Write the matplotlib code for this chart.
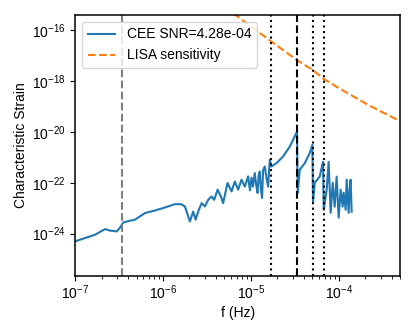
import numpy as np
import matplotlib
matplotlib.use('Agg')
import matplotlib.pyplot as plt
from matplotlib.ticker import FixedLocator, NullLocator

plt.rcParams['font.family'] = ['Liberation Sans', 'DejaVu Sans']
plt.rcParams['font.size'] = 10

# CEE characteristic strain spectrum (log10 values)
log_f_cee = [-7.000, -6.886, -6.773, -6.659, -6.602, -6.526, -6.489, -6.451, -6.375, -6.318,
             -6.205, -6.091, -5.977, -5.864, -5.795, -5.750, -5.731, -5.693, -5.656, -5.628,
             -5.599, -5.560, -5.523, -5.485, -5.447, -5.417, -5.378, -5.341, -5.315, -5.265,
             -5.219, -5.182, -5.144, -5.106, -5.068, -5.031, -5.010, -4.992, -4.975, -4.955,
             -4.940, -4.924, -4.910, -4.898, -4.885, -4.872, -4.860, -4.841, -4.822, -4.803,
             -4.784, -4.765, -4.708, -4.633, -4.557, -4.500, -4.474,
             -4.466, -4.443, -4.386, -4.330, -4.299, -4.292, -4.273, -4.216, -4.178, -4.170,
             -4.136, -4.114, -4.091, -4.068, -4.045, -4.023, -4.000, -3.977, -3.955, -3.943,
             -3.920, -3.909, -3.886, -3.875, -3.864, -3.852]
log_h_cee = [-24.30, -24.17, -24.04, -23.82, -23.88, -23.91, -23.76, -23.56, -23.49, -23.45,
             -23.19, -23.09, -22.97, -22.84, -22.84, -22.93, -23.13, -23.52, -23.13, -23.45,
             -23.13, -22.80, -22.93, -22.67, -22.54, -22.67, -22.27, -22.54, -22.80, -22.01,
             -22.34, -21.95, -22.27, -21.88, -22.15, -21.75, -22.30, -21.80, -22.15, -21.62,
             -22.05, -22.40, -21.70, -21.56, -22.25, -22.60, -21.50, -21.36, -21.80, -22.15,
             -21.10, -21.36, -21.23, -20.97, -20.58, -20.18, -19.99,
             -22.40, -21.49, -21.23, -20.84, -20.51, -22.78, -22.00, -21.76, -21.18, -23.06,
             -22.27, -21.18, -23.18, -22.00, -22.94, -21.76, -23.37, -22.27, -22.94, -22.39,
             -23.06, -21.88, -23.18, -22.27, -21.88, -23.14]

# LISA sensitivity curve (log10)
log_f_lisa = [-5.2, -4.977, -4.477, -4.295, -4.170, -4.0, -3.65, -3.307]
log_h_lisa = [-15.34, -15.92, -17.18, -17.57, -17.92, -18.28, -18.97, -19.57]

snr = 4.28e-4
f_orb = 3.38e-5  # orbital frequency marker

f_cee = 10 ** np.array(log_f_cee)
h_cee = 10 ** np.array(log_h_cee)
f_lisa = 10 ** np.array(log_f_lisa)
h_lisa = 10 ** np.array(log_h_lisa)

fig = plt.figure(figsize=(4.15, 3.32), dpi=100)
ax = fig.add_axes([0.181, 0.169, 0.783, 0.786])

ax.loglog(f_cee, h_cee, color='tab:blue', lw=1.5, label='CEE SNR=%.2e' % snr)
ax.loglog(f_lisa, h_lisa, '--', color='tab:orange', lw=1.5, label='LISA sensitivity')

ax.axvline(f_orb / 100, color='gray', ls='--')
ax.axvline(f_orb, color='k', ls='--')
for m in [0.5, 1.5, 2.0]:
    ax.axvline(m * f_orb, color='k', ls=':')

ax.set_xlim(1e-7, 5e-4)
ax.set_ylim(2.2e-26, 3.9e-16)
ax.xaxis.set_major_locator(FixedLocator([1e-7, 1e-6, 1e-5, 1e-4]))
ax.yaxis.set_major_locator(FixedLocator([1e-24, 1e-22, 1e-20, 1e-18, 1e-16]))
ax.yaxis.set_minor_locator(NullLocator())
ax.tick_params(axis='x', pad=2)
for s in ax.spines.values():
    s.set_linewidth(1.1)
ax.set_xlabel('f (Hz)', labelpad=3)
ax.set_ylabel('Characteristic Strain', labelpad=3)
ax.legend(loc='upper left')

plt.savefig('out.png', dpi=100)
